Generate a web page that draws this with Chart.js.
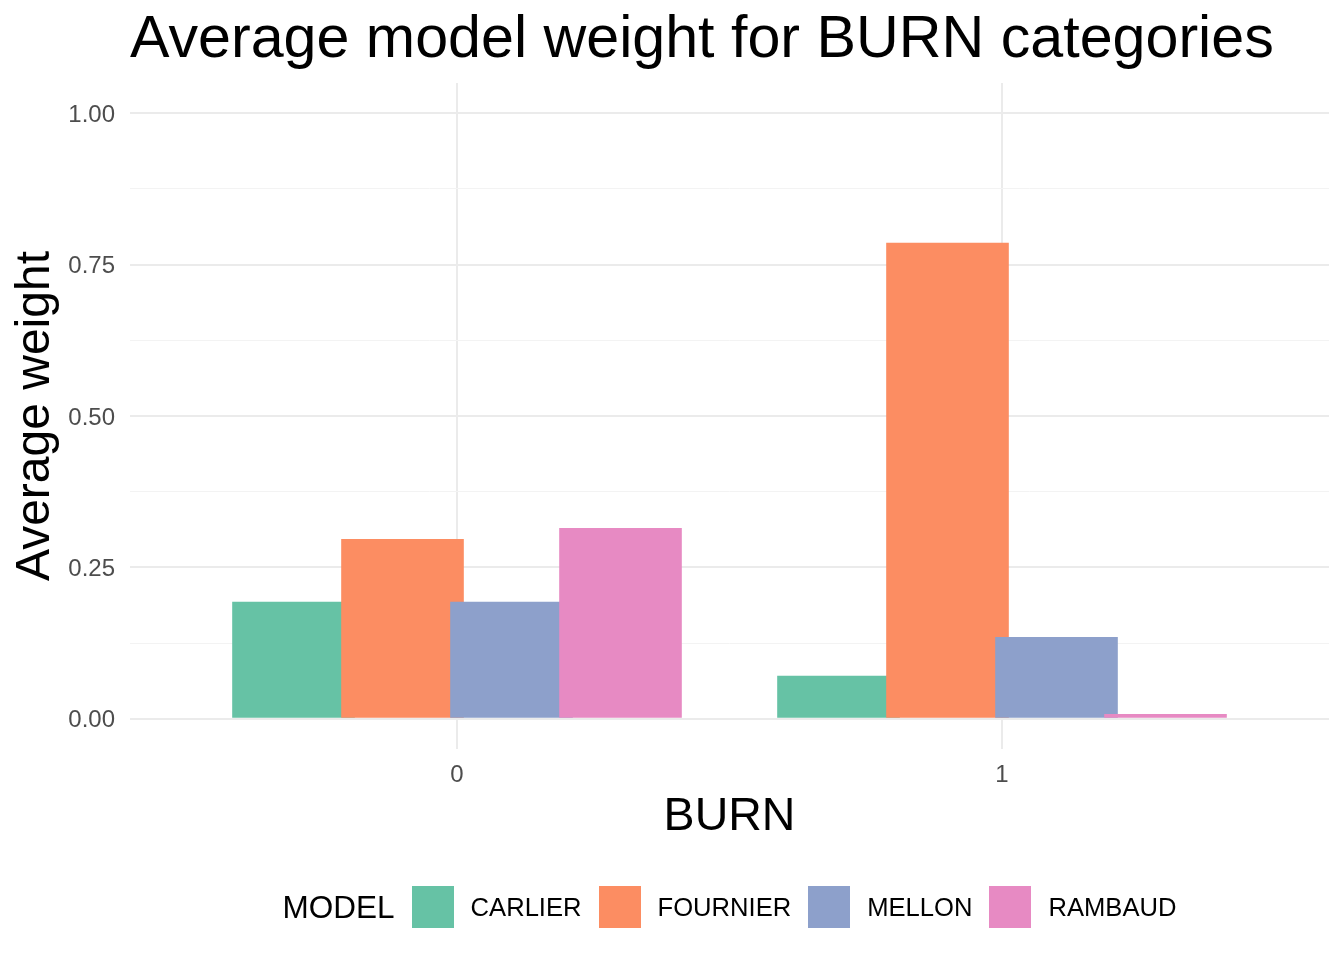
<!DOCTYPE html>
<html>
<head>
<meta charset="utf-8">
<title>Average model weight for BURN categories</title>
<script src="https://cdn.jsdelivr.net/npm/chart.js@4.4.1/dist/chart.umd.min.js"></script>
<style>
    body { margin: 0; background: #fff; }
    #wrap { position: relative; width: 1344px; height: 960px; font-family: "Liberation Sans", Arial, sans-serif; }
    #chart-title { position: absolute; left: 130px; top: 7px; font-size: 59.2px; line-height: 59.5px; color: #000; white-space: nowrap; }
    #legend { position: absolute; left: 130px; width: 1199px; top: 886px; height: 42px; display: flex; justify-content: center; align-items: center; }
    #legend .legend-title { font-size: 31.5px; margin-right: 17px; color: #000; }
    #legend .key { width: 42px; height: 42px; margin-right: 17px; }
    #legend .label { font-size: 25.6px; margin-right: 17px; color: #000; }
    #legend .label:last-child { margin-right: 0; }
</style>
</head>
<body>
<div id="wrap">
    <canvas id="weightChart" width="1344" height="960"></canvas>
    <div id="chart-title">Average model weight for BURN categories</div>
    <div id="legend"></div>
</div>
<script>
// --- Data ---
const burnLevels = [0, 1];
const models = ['CARLIER', 'FOURNIER', 'MELLON', 'RAMBAUD'];
const carlierWeights = [0.193, 0.071];
const fournierWeights = [0.297, 0.786];
const mellonWeights = [0.193, 0.135];
const rambaudWeights = [0.315, 0.008];
const yMajorTicks = [0, 0.25, 0.5, 0.75, 1.0];

const modelColors = ['#66C2A5', '#FC8D62', '#8DA0CB', '#E78AC3'];
const seriesValues = [carlierWeights, fournierWeights, mellonWeights, rambaudWeights];

// dodge like ggplot: width 0.8 shared by 4 bars, each bar 0.9/4 wide
const dodgeWidth = 0.8;
const dodgeStep = dodgeWidth / models.length;

// minor grid halfway between majors
const yGridTicks = [];
yMajorTicks.forEach((v, i) => {
    yGridTicks.push(v);
    if (i < yMajorTicks.length - 1) yGridTicks.push((v + yMajorTicks[i + 1]) / 2);
});
const isMajor = (v) => yMajorTicks.some(m => Math.abs(m - v) < 1e-9);

const datasets = models.map((name, i) => ({
    label: name,
    data: burnLevels.map((b, j) => ({
        x: b + (i - (models.length - 1) / 2) * dodgeStep,
        y: seriesValues[i][j]
    })),
    backgroundColor: modelColors[i],
    borderWidth: 0,
    grouped: false,
    categoryPercentage: 1,
    barPercentage: 0.9 / dodgeWidth,
    order: models.length - i // later models drawn on top
}));

const fontFamily = '"Liberation Sans", Arial, sans-serif';

new Chart(document.getElementById('weightChart').getContext('2d'), {
    type: 'bar',
    data: { datasets: datasets },
    options: {
        responsive: false,
        animation: false,
        layout: { padding: { left: 0, right: 15, top: 83, bottom: 111 } },
        plugins: {
            legend: { display: false },
            title: { display: false },
            tooltip: { enabled: false }
        },
        scales: {
            x: {
                type: 'linear',
                min: -0.6,
                max: 1.6,
                offset: false,
                border: { display: false },
                grid: { offset: false, drawTicks: false, color: '#ebebeb', lineWidth: 2 },
                afterBuildTicks: (s) => { s.ticks = burnLevels.map(v => ({ value: v })); },
                afterFit: (s) => { s.height = 100; },
                ticks: {
                    autoSkip: false,
                    padding: 12,
                    color: '#4d4d4d',
                    font: { family: fontFamily, size: 24 },
                    callback: (v) => String(v)
                },
                title: {
                    display: true,
                    text: 'BURN',
                    color: '#000',
                    font: { family: fontFamily, size: 46.5 },
                    padding: { top: 0, bottom: 4 }
                }
            },
            y: {
                min: -0.05,
                max: 1.05,
                border: { display: false },
                grid: {
                    drawTicks: false,
                    color: (ctx) => ctx.tick && isMajor(ctx.tick.value) ? '#ebebeb' : '#f3f3f3',
                    lineWidth: (ctx) => ctx.tick && isMajor(ctx.tick.value) ? 2 : 1
                },
                afterBuildTicks: (s) => { s.ticks = yGridTicks.map(v => ({ value: v })); },
                afterFit: (s) => { s.width = 130; },
                ticks: {
                    autoSkip: false,
                    padding: 15,
                    labelOffset: 2,
                    color: '#4d4d4d',
                    font: { family: fontFamily, size: 24 },
                    callback: (v) => isMajor(v) ? v.toFixed(2) : ''
                },
                title: {
                    display: true,
                    text: 'Average weight',
                    color: '#000',
                    font: { family: fontFamily, size: 48 },
                    padding: { top: 7, bottom: 0 }
                }
            }
        }
    }
});

// --- Legend (ggplot style, title on the left) ---
const legendEl = document.getElementById('legend');
legendEl.innerHTML = '<span class="legend-title">MODEL</span>' +
    models.map((m, i) => `<span class="key" style="background:${modelColors[i]}"></span><span class="label">${m}</span>`).join('');
</script>
</body>
</html>
